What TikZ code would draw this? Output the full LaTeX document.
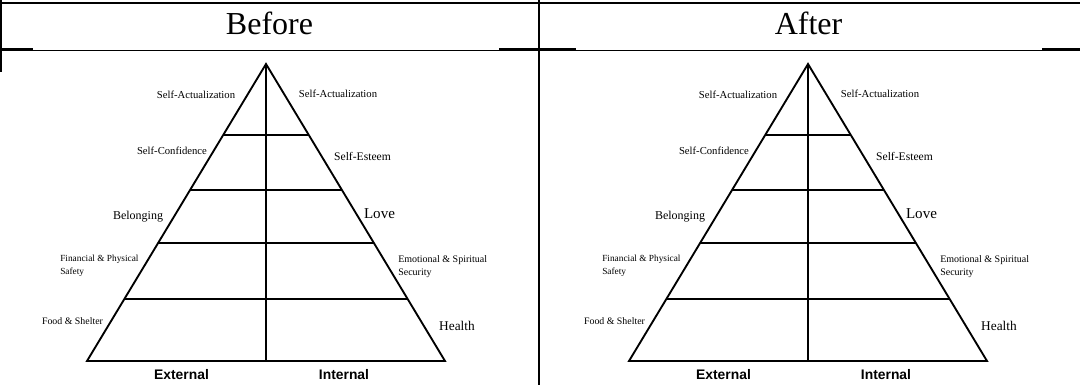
\documentclass[tikz,border=0pt]{standalone}
\usepackage{fontspec}
\setmainfont{Liberation Serif}
\setsansfont{Liberation Sans}
\usetikzlibrary{calc}

\tikzset{
  lvl/.style={line width=1.4pt},
  rule/.style={line width=1.75pt},
  thinrule/.style={line width=1pt},
  lbl/.style={inner sep=0pt, anchor=base},
  side/.style={inner sep=0pt, anchor=base, font=\sffamily\bfseries\fontsize{10.4}{12}\selectfont},
  head/.style={inner sep=0pt, anchor=base, font=\fontsize{24}{28}\selectfont},
}

\begin{document}
\begin{tikzpicture}[x=0.75pt, y=-0.75pt]
	\useasboundingbox (0,0) rectangle (1080,385);
	% table rules
	\draw[rule] (0,2.7) -- (1080,2.7);
	\draw[rule] (1,0) -- (1,72);
	\draw[rule] (539,0) -- (539,385);
	\draw[rule] (0,49.5) -- (33,49.5);
	\draw[rule] (499,49.5) -- (576,49.5);
	\draw[rule] (1042,49.5) -- (1080,49.5);
	\draw[thinrule] (33,50.3) -- (499,50.3);
	\draw[thinrule] (576,50.3) -- (1042,50.3);
	\node[head] (before) at (269.5,35) {Before};
	\node[head] (after) at (808.5,35) {After};
	% two pyramids
	\foreach \dx/\n in {0/b, 542/a}{
	\begin{scope}[shift={(\dx,0)}]
		\coordinate (top\n) at (266,64);
		\coordinate (bl\n) at (87,361);
		\coordinate (br\n) at (445,361);
		\coordinate (bm\n) at (266,361);
		\draw[lvl, line join=miter] (top\n) -- (bl\n) -- (br\n) -- cycle;
		\draw[lvl] (top\n) -- (bm\n);
		\foreach \t in {0.239, 0.424, 0.603, 0.791}
			\draw[lvl] ($(top\n)!\t!(bl\n)$) -- ($(top\n)!\t!(br\n)$);
		% left side
		\node[lbl, font=\fontsize{8}{10}\selectfont] (saL\n) at (196,98.5) {Self-Actualization};
		\node[lbl, font=\fontsize{8}{10}\selectfont] (conf\n) at (172,154.5) {Self-Confidence};
		\node[lbl, font=\fontsize{9}{11}\selectfont] (bel\n) at (138,219) {Belonging};
		\node[lbl, anchor=base west, align=left, font=\fontsize{7}{9.75}\selectfont] (fin\n) at (60,274) {Financial \& Physical\\Safety};
		\node[lbl, font=\fontsize{7.4}{9}\selectfont] (food\n) at (72.5,324.5) {Food \& Shelter};
		% right side
		\node[lbl, font=\fontsize{8}{10}\selectfont] (saR\n) at (338,97.5) {Self-Actualization};
		\node[lbl, font=\fontsize{8.7}{10}\selectfont] (est\n) at (362.5,160) {Self-Esteem};
		\node[lbl, font=\fontsize{11.3}{13}\selectfont] (love\n) at (379.5,218) {Love};
		\node[lbl, anchor=base west, align=left, font=\fontsize{7.5}{9.75}\selectfont] (emo\n) at (398,275.5) {Emotional \& Spiritual\\Security};
		\node[lbl, font=\fontsize{10}{12}\selectfont] (health\n) at (457,330.5) {Health};
		% halves
		\node[side] (ext\n) at (181.5,379) {External};
		\node[side] (int\n) at (344,379) {Internal};
	\end{scope}
	}
\end{tikzpicture}
\end{document}
